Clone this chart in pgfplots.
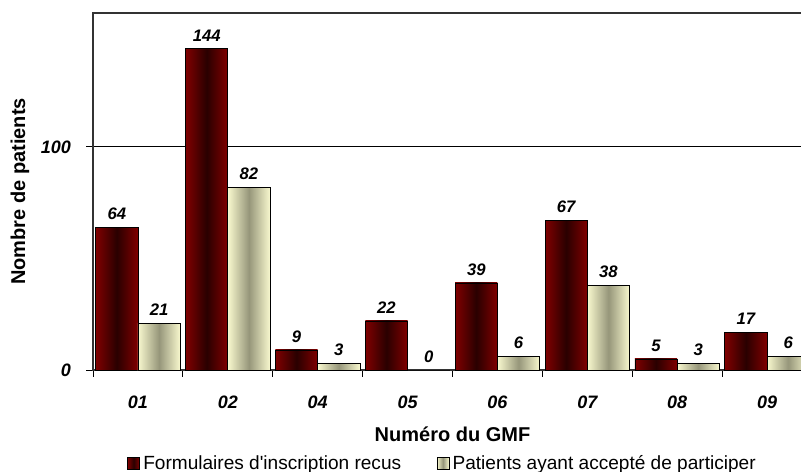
\documentclass[border=0pt]{standalone}
\usepackage{pgfplots}
\pgfplotsset{compat=1.18}
\usepackage{fontspec}
\setmainfont{Liberation Sans}
\definecolor{darkedge}{HTML}{800000}
\definecolor{darkmid}{HTML}{2A0000}
\definecolor{lightedge}{HTML}{F8F8CE}
\definecolor{lightmid}{HTML}{96967A}
\pgfplotsset{/pgf/number format/assume math mode=true}
\begin{document}
\begin{tikzpicture}
\begin{axis}[
  at={(0,0)}, anchor=south west,
  scale only axis, width=539.25pt, height=267.75pt,
  xmin=-0.5, xmax=7.5, ymin=0, ymax=160,
  xtick={-0.5,0.5,...,7.5}, x tick label as interval,
  xticklabels={01,02,04,05,06,07,08,09},
  ytick={0,100},
  tick align=outside, xtick pos=bottom, ytick pos=left,
  major tick length=5pt,
  tick style={draw=black, line width=0.6pt},
  ymajorgrids, grid style={black, line width=0.6pt},
  axis line style={draw=black!80, line width=1pt},
  ticklabel style={font=\bfseries\itshape\fontsize{13.5}{15}\selectfont},
  x tick label style={yshift=-11pt},
  y tick label style={xshift=-8pt},
  xlabel={Numéro du GMF},
  ylabel={Nombre de patients},
  xlabel style={font=\bfseries\fontsize{15}{17}\selectfont, at={(axis description cs:0.5,-0.1793)}, anchor=center},
  ylabel style={font=\bfseries\fontsize{15}{17}\selectfont, at={(axis description cs:-0.1015,0.5)}, anchor=center},
  nodes near coords,
  every node near coord/.append style={font=\bfseries\itshape\fontsize{12.5}{14}\selectfont, inner sep=1pt, yshift=4.5pt, text=black},
  legend columns=2,
  legend style={at={(axis description cs:0.0473,-0.262)}, anchor=west, draw=none, fill=none, inner sep=0pt,
    font=\fontsize{14.3}{16}\selectfont, nodes={inner sep=2.5pt},
    /tikz/every even column/.append style={column sep=24pt}},
  mylegend/.style={legend image code/.code={\draw[##1, line width=0.5pt] (0pt,-4.5pt) rectangle (9pt,4.5pt);}},
  dk/.style={ybar, bar width=0.47, bar shift=-0.235, draw=black, line width=0.5pt,
    left color=darkedge, right color=darkedge, middle color=darkmid, mylegend,
    every node near coord/.append style={xshift=-15.84pt}},
  lt/.style={ybar, bar width=0.47, bar shift=0.235, draw=black, line width=0.5pt,
    left color=lightedge, right color=lightedge, middle color=lightmid, mylegend,
    every node near coord/.append style={xshift=15.84pt}},
]
\addplot[dk] coordinates {(0,64)};
\addplot[lt] coordinates {(0,21)};
\addplot[dk, forget plot] coordinates {(1,144)};
\addplot[lt, forget plot] coordinates {(1,82)};
\addplot[dk, forget plot] coordinates {(2,9)};
\addplot[lt, forget plot] coordinates {(2,3)};
\addplot[dk, forget plot] coordinates {(3,22)};
\addplot[lt, forget plot] coordinates {(3,0)};
\addplot[dk, forget plot] coordinates {(4,39)};
\addplot[lt, forget plot] coordinates {(4,6)};
\addplot[dk, forget plot] coordinates {(5,67)};
\addplot[lt, forget plot] coordinates {(5,38)};
\addplot[dk, forget plot] coordinates {(6,5)};
\addplot[lt, forget plot] coordinates {(6,3)};
\addplot[dk, forget plot] coordinates {(7,17)};
\addplot[lt, forget plot] coordinates {(7,6)};
\legend{Formulaires d\textquotesingle inscription recus, Patients ayant accepté de participer}
\end{axis}
\pgfresetboundingbox
\useasboundingbox (-69.75pt,-76.5pt) rectangle (531pt,277.5pt);
\end{tikzpicture}
\end{document}
